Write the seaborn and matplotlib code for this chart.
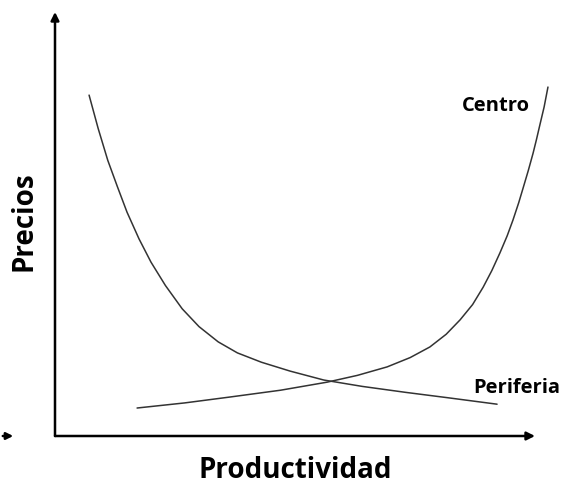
import numpy as np
import pandas as pd
import matplotlib
matplotlib.use("Agg")
import matplotlib.pyplot as plt
import seaborn as sns

# curves (axis units 0..10)
periferia_x = [0.71, 0.90, 1.10, 1.30, 1.50, 1.75, 2.00, 2.30, 2.65, 3.00, 3.40, 3.80,
               4.30, 4.90, 5.60, 6.40, 7.30, 8.20, 9.21]
periferia_y = [8.04, 7.25, 6.50, 5.88, 5.28, 4.65, 4.10, 3.55, 3.00, 2.58, 2.22, 1.96,
               1.74, 1.53, 1.32, 1.17, 1.03, 0.90, 0.75]
centro_x = [1.71, 2.70, 3.65, 4.70, 5.67, 6.30, 6.92, 7.40, 7.81, 8.15, 8.44, 8.70, 8.92,
            9.10, 9.27, 9.42, 9.54, 9.66, 9.75, 9.86, 9.96, 10.03, 10.10, 10.19, 10.27]
centro_y = [0.66, 0.78, 0.92, 1.08, 1.27, 1.43, 1.63, 1.85, 2.10, 2.40, 2.74, 3.10, 3.51,
            3.90, 4.32, 4.72, 5.09, 5.50, 5.84, 6.26, 6.67, 6.99, 7.33, 7.76, 8.23]

df = pd.concat([
    pd.DataFrame({"Productividad": periferia_x, "Precios": periferia_y, "serie": "Periferia"}),
    pd.DataFrame({"Productividad": centro_x, "Precios": centro_y, "serie": "Centro"}),
])

sns.set_style("white")
plt.rcParams["font.family"] = ["Open Sans", "DejaVu Sans"]
plt.rcParams["text.color"] = "black"

fig = plt.figure(figsize=(5.63, 4.86), dpi=100)
ax = fig.add_axes([55 / 563, 50 / 486, 480 / 563, 424 / 486])

sns.lineplot(data=df, x="Productividad", y="Precios", units="serie", estimator=None,
             sort=False, color="#333333", linewidth=1.1, ax=ax, clip_on=False)

ax.set_xlim(0, 10)
ax.set_ylim(0, 10)
ax.set_xticks([])
ax.set_yticks([])
ax.set_xlabel("")
ax.set_ylabel("")
for s in ax.spines.values():
    s.set_visible(False)

# axes with arrow heads
arrow = dict(arrowstyle="-|>", color="black", lw=1.8, mutation_scale=12, shrinkA=0, shrinkB=0)
ax.annotate("", xy=(0, 1), xytext=(0, 0), xycoords="axes fraction", arrowprops=arrow)
ax.annotate("", xy=(1, 0), xytext=(0, 0), xycoords="axes fraction", arrowprops=arrow)
# small stray arrow at the left edge
fig.patches.append(matplotlib.patches.FancyArrowPatch(
    (0, 50 / 486), (16 / 563, 50 / 486), transform=fig.transFigure,
    arrowstyle="-|>", color="black", lw=1.8, mutation_scale=10))

fig.text(496 / 563, 1 - 111 / 486, "Centro", fontsize=14.5, fontweight="bold",
         ha="center", va="baseline")
fig.text(517 / 563, 1 - 393 / 486, "Periferia", fontsize=14.5, fontweight="bold",
         ha="center", va="baseline")

fig.text(295 / 563, 1 - 478 / 486, "Productividad", fontsize=20, fontweight="bold",
         ha="center", va="baseline")
fig.text(32 / 563, 1 - 221 / 486, "Precios", fontsize=20, fontweight="bold",
         ha="center", va="baseline", rotation=90, rotation_mode="anchor")

fig.savefig("out.png", dpi=100)
